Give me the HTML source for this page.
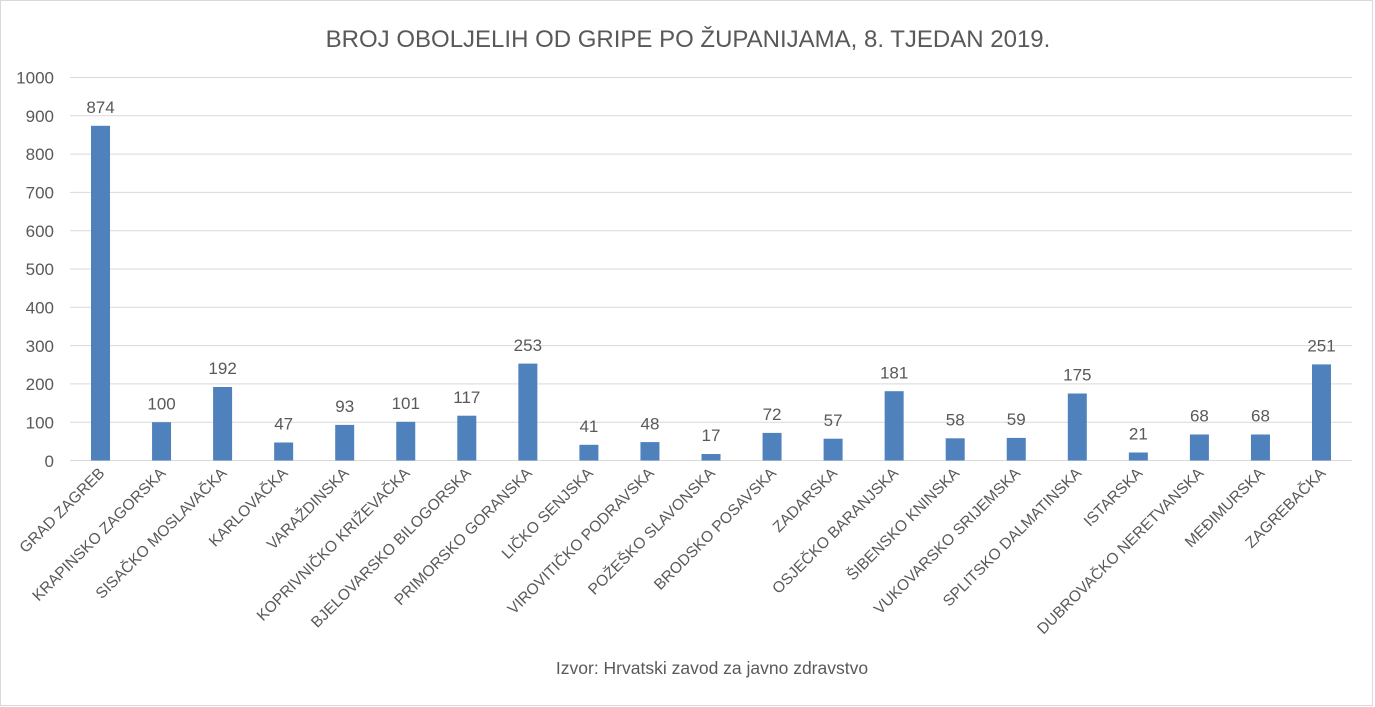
<!DOCTYPE html>
<html><head><meta charset="utf-8"><style>
html,body{margin:0;padding:0;background:#fff}
svg{display:block}
text{font-family:"Liberation Sans",sans-serif;fill:#595959}
.b{fill:#4f81bd}
.v{font-size:17px;text-anchor:middle}
.l{font-size:15.5px;text-anchor:end}
</style></head><body>
<svg width="1375" height="707" xmlns="http://www.w3.org/2000/svg">
<rect x="0.5" y="0.5" width="1372" height="705" fill="#fff" stroke="#d9d9d9"/>
<text x="688" y="47" font-size="24" text-anchor="middle">BROJ OBOLJELIH OD GRIPE PO ŽUPANIJAMA, 8. TJEDAN 2019.</text>
<g stroke="#d9d9d9" stroke-width="1">
<line x1="70" x2="1352" y1="77.5" y2="77.5"/><line x1="70" x2="1352" y1="115.8" y2="115.8"/>
<line x1="70" x2="1352" y1="154.1" y2="154.1"/><line x1="70" x2="1352" y1="192.4" y2="192.4"/>
<line x1="70" x2="1352" y1="230.7" y2="230.7"/><line x1="70" x2="1352" y1="269" y2="269"/>
<line x1="70" x2="1352" y1="307.3" y2="307.3"/><line x1="70" x2="1352" y1="345.6" y2="345.6"/>
<line x1="70" x2="1352" y1="383.9" y2="383.9"/><line x1="70" x2="1352" y1="422.2" y2="422.2"/>
<line x1="70" x2="1352" y1="460.5" y2="460.5"/>
</g>
<g font-size="17" text-anchor="end">
<text x="54" y="83.5">1000</text><text x="54" y="122">900</text><text x="54" y="160">800</text>
<text x="54" y="198.5">700</text><text x="54" y="237">600</text><text x="54" y="275">500</text>
<text x="54" y="313.5">400</text><text x="54" y="352">300</text><text x="54" y="390">200</text>
<text x="54" y="428.5">100</text><text x="54" y="467">0</text>
</g>

<g transform="translate(100.5,0)"><rect class="b" x="-9.5" y="125.8" width="19" height="334.7"/><text class="v" x="0" y="113">874</text><text class="l" transform="translate(5,474) rotate(-45)">GRAD ZAGREB</text></g>
<g transform="translate(161.55,0)"><rect class="b" x="-9.5" y="422.2" width="19" height="38.3"/><text class="v" x="0" y="409.4">100</text><text class="l" transform="translate(5,474) rotate(-45)">KRAPINSKO ZAGORSKA</text></g>
<g transform="translate(222.6,0)"><rect class="b" x="-9.5" y="387" width="19" height="73.5"/><text class="v" x="0" y="374.2">192</text><text class="l" transform="translate(5,474) rotate(-45)">SISAČKO MOSLAVAČKA</text></g>
<g transform="translate(283.65,0)"><rect class="b" x="-9.5" y="442.5" width="19" height="18"/><text class="v" x="0" y="429.7">47</text><text class="l" transform="translate(5,474) rotate(-45)">KARLOVAČKA</text></g>
<g transform="translate(344.7,0)"><rect class="b" x="-9.5" y="424.9" width="19" height="35.6"/><text class="v" x="0" y="412.1">93</text><text class="l" transform="translate(5,474) rotate(-45)">VARAŽDINSKA</text></g>
<g transform="translate(405.75,0)"><rect class="b" x="-9.5" y="421.8" width="19" height="38.7"/><text class="v" x="0" y="409">101</text><text class="l" transform="translate(5,474) rotate(-45)">KOPRIVNIČKO KRIŽEVAČKA</text></g>
<g transform="translate(466.8,0)"><rect class="b" x="-9.5" y="415.7" width="19" height="44.8"/><text class="v" x="0" y="402.9">117</text><text class="l" transform="translate(5,474) rotate(-45)">BJELOVARSKO BILOGORSKA</text></g>
<g transform="translate(527.85,0)"><rect class="b" x="-9.5" y="363.6" width="19" height="96.9"/><text class="v" x="0" y="350.8">253</text><text class="l" transform="translate(5,474) rotate(-45)">PRIMORSKO GORANSKA</text></g>
<g transform="translate(588.9,0)"><rect class="b" x="-9.5" y="444.8" width="19" height="15.7"/><text class="v" x="0" y="432">41</text><text class="l" transform="translate(5,474) rotate(-45)">LIČKO SENJSKA</text></g>
<g transform="translate(649.95,0)"><rect class="b" x="-9.5" y="442.1" width="19" height="18.4"/><text class="v" x="0" y="429.3">48</text><text class="l" transform="translate(5,474) rotate(-45)">VIROVITIČKO PODRAVSKA</text></g>
<g transform="translate(711,0)"><rect class="b" x="-9.5" y="454" width="19" height="6.5"/><text class="v" x="0" y="441.2">17</text><text class="l" transform="translate(5,474) rotate(-45)">POŽEŠKO SLAVONSKA</text></g>
<g transform="translate(772.05,0)"><rect class="b" x="-9.5" y="432.9" width="19" height="27.6"/><text class="v" x="0" y="420.1">72</text><text class="l" transform="translate(5,474) rotate(-45)">BRODSKO POSAVSKA</text></g>
<g transform="translate(833.1,0)"><rect class="b" x="-9.5" y="438.7" width="19" height="21.8"/><text class="v" x="0" y="425.9">57</text><text class="l" transform="translate(5,474) rotate(-45)">ZADARSKA</text></g>
<g transform="translate(894.15,0)"><rect class="b" x="-9.5" y="391.2" width="19" height="69.3"/><text class="v" x="0" y="378.4">181</text><text class="l" transform="translate(5,474) rotate(-45)">OSJEČKO BARANJSKA</text></g>
<g transform="translate(955.2,0)"><rect class="b" x="-9.5" y="438.3" width="19" height="22.2"/><text class="v" x="0" y="425.5">58</text><text class="l" transform="translate(5,474) rotate(-45)">ŠIBENSKO KNINSKA</text></g>
<g transform="translate(1016.25,0)"><rect class="b" x="-9.5" y="437.9" width="19" height="22.6"/><text class="v" x="0" y="425.1">59</text><text class="l" transform="translate(5,474) rotate(-45)">VUKOVARSKO SRIJEMSKA</text></g>
<g transform="translate(1077.3,0)"><rect class="b" x="-9.5" y="393.5" width="19" height="67"/><text class="v" x="0" y="380.7">175</text><text class="l" transform="translate(5,474) rotate(-45)">SPLITSKO DALMATINSKA</text></g>
<g transform="translate(1138.35,0)"><rect class="b" x="-9.5" y="452.5" width="19" height="8"/><text class="v" x="0" y="439.7">21</text><text class="l" transform="translate(5,474) rotate(-45)">ISTARSKA</text></g>
<g transform="translate(1199.4,0)"><rect class="b" x="-9.5" y="434.5" width="19" height="26"/><text class="v" x="0" y="421.7">68</text><text class="l" transform="translate(5,474) rotate(-45)">DUBROVAČKO NERETVANSKA</text></g>
<g transform="translate(1260.45,0)"><rect class="b" x="-9.5" y="434.5" width="19" height="26"/><text class="v" x="0" y="421.7">68</text><text class="l" transform="translate(5,474) rotate(-45)">MEĐIMURSKA</text></g>
<g transform="translate(1321.5,0)"><rect class="b" x="-9.5" y="364.4" width="19" height="96.1"/><text class="v" x="0" y="351.6">251</text><text class="l" transform="translate(5,474) rotate(-45)">ZAGREBAČKA</text></g>

<text x="712" y="674" font-size="17.5" text-anchor="middle">Izvor: Hrvatski zavod za javno zdravstvo</text>
</svg>
</body></html>
